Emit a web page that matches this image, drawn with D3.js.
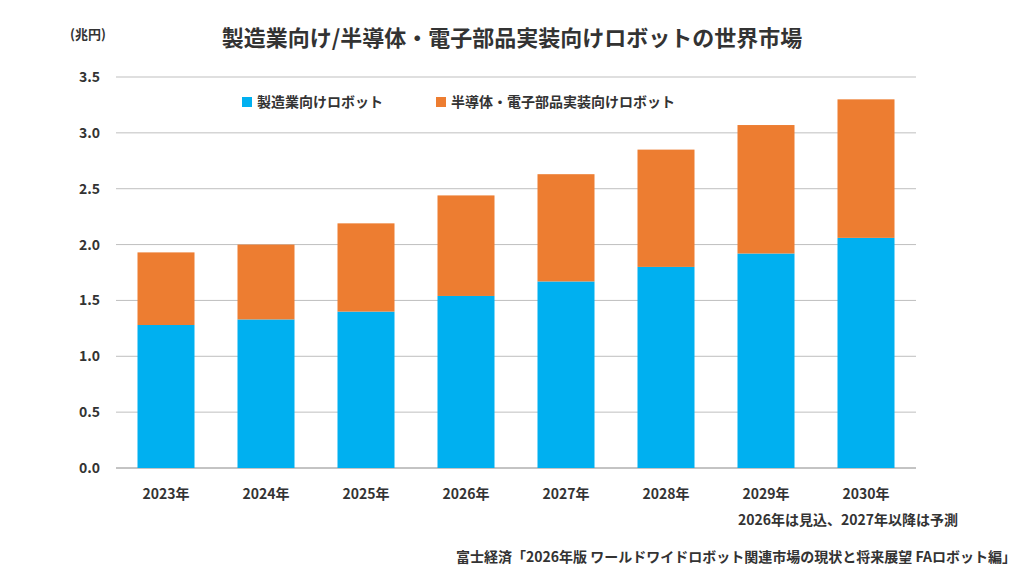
<!DOCTYPE html>
<html><head><meta charset="utf-8">
<script src="https://cdn.jsdelivr.net/npm/d3@7"></script>
<style>body{margin:0;background:#fff;font-family:"Noto Sans CJK JP","Noto Sans",sans-serif;}</style>
</head><body><div id="chart"></div>
<script>
const years = ["2023年","2024年","2025年","2026年","2027年","2028年","2029年","2030年"];
const manufacturing = [1.28,1.33,1.40,1.54,1.67,1.80,1.92,2.06];
const semiconductor = [0.65,0.67,0.79,0.90,0.96,1.05,1.15,1.24];
const yTicks = [0,0.5,1.0,1.5,2.0,2.5,3.0,3.5];
const seriesNames = ["製造業向けロボット","半導体・電子部品実装向けロボット"];
const colors = ["#00B0F0","#ED7D31"];

const svg = d3.select("#chart").append("svg").attr("width",1024).attr("height",576);
const x = d3.scaleBand().domain(years).range([116,916]).paddingInner(0.43).paddingOuter(0.215);
const y = d3.scaleLinear().domain([0,3.5]).range([468,77]);

svg.append("g").selectAll("line").data(yTicks).enter().append("line")
  .attr("x1",116).attr("x2",916).attr("y1",d=>y(d)).attr("y2",d=>y(d))
  .attr("stroke",d=>d===0?"#888":"#bfbfbf").attr("stroke-width",1);
svg.append("g").selectAll("text").data(yTicks).enter().append("text")
  .attr("x",100).attr("y",d=>y(d)+5).attr("text-anchor","end")
  .attr("font-size",14).attr("font-weight","bold").attr("fill","#333").text(d=>d.toFixed(1));

const data = years.map((yr,i)=>({yr,a:manufacturing[i],b:semiconductor[i]}));
svg.append("g").selectAll("rect").data(data).enter().append("rect")
  .attr("x",d=>x(d.yr)).attr("width",x.bandwidth())
  .attr("y",d=>y(d.a)).attr("height",d=>y(0)-y(d.a)).attr("fill",colors[0]);
svg.append("g").selectAll("rect").data(data).enter().append("rect")
  .attr("x",d=>x(d.yr)).attr("width",x.bandwidth())
  .attr("y",d=>y(d.a+d.b)).attr("height",d=>y(d.a)-y(d.a+d.b)).attr("fill",colors[1]);

svg.append("g").selectAll("text").data(years).enter().append("text")
  .attr("x",d=>x(d)+x.bandwidth()/2).attr("y",499).attr("text-anchor","middle")
  .attr("font-size",14).attr("font-weight","bold").attr("fill","#333").text(d=>d);

// legend
const lx=[242,436];
seriesNames.forEach((n,i)=>{
  svg.append("rect").attr("x",lx[i]).attr("y",97).attr("width",10).attr("height",10).attr("fill",colors[i]);
  svg.append("text").attr("x",lx[i]+15).attr("y",107).attr("font-size",14).attr("font-weight","bold")
    .attr("fill","#333").text(n);
});

svg.append("text").attr("x",70).attr("y",39).attr("font-size",13).attr("font-weight","bold").attr("fill","#333").text("(兆円)");
svg.append("text").attr("x",512).attr("y",46).attr("text-anchor","middle").attr("font-size",22)
  .attr("font-weight","bold").attr("fill","#333").text("製造業向け/半導体・電子部品実装向けロボットの世界市場");
svg.append("text").attr("x",958).attr("y",525).attr("text-anchor","end").attr("font-size",14)
  .attr("font-weight","bold").attr("fill","#333").text("2026年は見込、2027年以降は予測");
svg.append("text").attr("x",1016).attr("y",562).attr("text-anchor","end").attr("font-size",14)
  .attr("font-weight","bold").attr("fill","#333").text("富士経済「2026年版 ワールドワイドロボット関連市場の現状と将来展望 FAロボット編」");
</script></body></html>
